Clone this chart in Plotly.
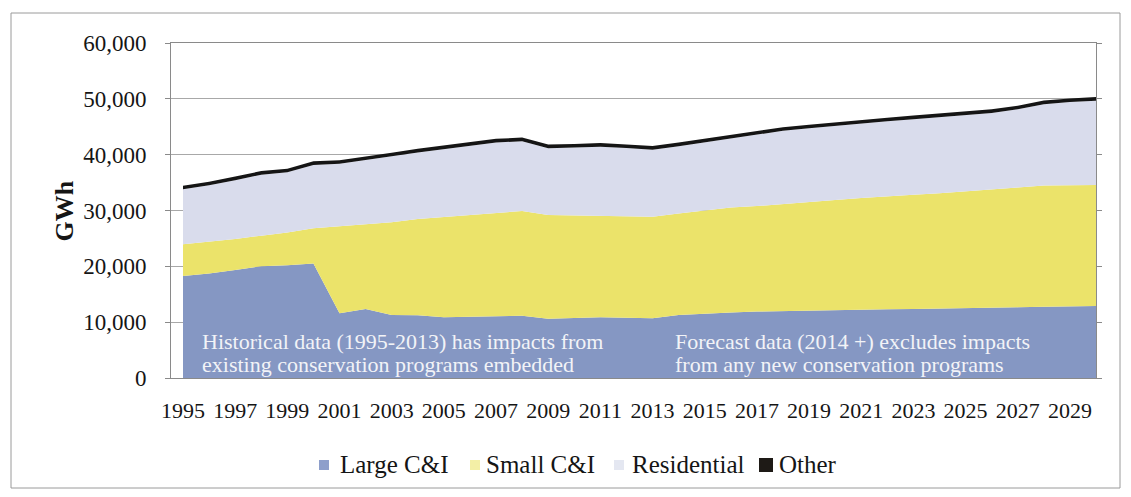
import plotly.graph_objects as go

years = list(range(1995, 2031))
large_ci = [18270, 18700, 19350, 20000, 20200, 20500, 11600, 12350, 11300, 11250,
            10900, 10950, 11100, 11150, 10600, 10750, 10900, 10800, 10700, 11300,
            11550, 11750, 11900, 12000, 12100, 12150, 12250, 12300, 12350, 12400,
            12450, 12550, 12650, 12750, 12850, 12900]
small_ci = [5680, 5700, 5550, 5500, 5850, 6300, 15600, 15150, 16600, 17250,
            17950, 18250, 18500, 18750, 18600, 18350, 18100, 18150, 18200, 18150,
            18500, 18800, 18900, 19120, 19390, 19710, 19980, 20170, 20450, 20700,
            20960, 21170, 21490, 21750, 21670, 21650]
residential = [9850, 10120, 10540, 10920, 10790, 11350, 11160, 11470, 11810, 11890,
               12160, 12360, 12580, 12510, 11970, 12180, 12430, 12230, 11980, 12060,
               12180, 12380, 12830, 13160, 13240, 13320, 13350, 13510, 13550, 13630,
               13690, 13760, 13990, 14530, 14910, 15110]
other = [650, 650, 650, 650, 650, 650, 650, 650, 650, 650,
         650, 650, 650, 650, 650, 650, 650, 650, 650, 650,
         650, 650, 650, 650, 650, 650, 650, 650, 650, 650,
         650, 650, 650, 650, 650, 650]

series_names = ["Large C&I", "Small C&I", "Residential", "Other"]
tick_years = list(range(1995, 2030, 2))
y_ticks = [0, 10000, 20000, 30000, 40000, 50000, 60000]

note_hist = ["Historical data (1995-2013) has impacts from",
             "existing conservation programs embedded"]
note_fcst = ["Forecast data (2014 +) excludes impacts",
             "from any new conservation programs"]

colors = ["#8597c3", "#ebe36a", "#d9dcec", "#151515"]
legend_colors = ["#8e9fcb", "#f3efa6", "#e4e7f1", "#1e1a16"]
FONT = "Liberation Serif"

# plot-area geometry (pixels) used to place legend items in paper coordinates
L, R, T, B = 171, 1096, 43, 378
def px_x(p):
    return (p - L) / (R - L)
def px_y(p):
    return (B - p) / (B - T)

fig = go.Figure()
for name, vals, col in zip(series_names, [large_ci, small_ci, residential, other], colors):
    fig.add_trace(go.Scatter(
        x=years, y=vals, name=name, mode="lines", stackgroup="one",
        line=dict(width=0, color=col), fillcolor=col, showlegend=False,
    ))

fig.update_xaxes(
    range=[1994.54, 2030.0], tickvals=tick_years, ticktext=[str(t) for t in tick_years],
    showgrid=False, showline=True, linecolor="#8a8a8a", linewidth=1, mirror=True,
    ticks="", ticklabelstandoff=13,
    tickfont=dict(family=FONT, size=22, color="#151515"), zeroline=False,
)
fig.update_yaxes(
    range=[0, 60000], tickvals=y_ticks, ticktext=[f"{v:,}" for v in y_ticks],
    showgrid=True, gridcolor="#a8a8a8", gridwidth=1,
    showline=True, linecolor="#8a8a8a", linewidth=1, mirror="ticks",
    ticks="outside", ticklen=5, tickcolor="#8a8a8a", ticklabelstandoff=14,
    tickfont=dict(family=FONT, size=23, color="#151515"), zeroline=False,
)

ann_font = dict(family=FONT, size=22, color="#f2f3f7")
for xpos, lines in [(1995.65, note_hist), (2013.79, note_fcst)]:
    for txt, ypos in zip(lines, [6450, 2330]):
        fig.add_annotation(
            x=xpos, y=ypos, xref="x", yref="y", xanchor="left", yanchor="middle",
            text=txt, showarrow=False, font=ann_font, align="left",
        )
fig.add_annotation(
    x=-0.1146, y=0.5, xref="paper", yref="paper", xanchor="center", yanchor="middle",
    text="<b>GWh</b>", textangle=-90, showarrow=False,
    font=dict(family=FONT, size=26, color="#151515"),
)

# legend (swatch squares + labels)
swatches = [(319, 329), (470, 480), (614, 624), (759, 773)]
text_x = [338, 484, 630, 777]
leg_y = 465
for (s0, s1), tx, name, col in zip(swatches, text_x, series_names, legend_colors):
    half = (s1 - s0) / 2
    fig.add_shape(
        type="rect", xref="paper", yref="paper",
        x0=px_x(s0), x1=px_x(s1), y0=px_y(leg_y + half), y1=px_y(leg_y - half),
        line=dict(width=0), fillcolor=col,
    )
    fig.add_annotation(
        x=px_x(tx), y=px_y(leg_y), xref="paper", yref="paper",
        xanchor="left", yanchor="middle", text=name, showarrow=False,
        font=dict(family=FONT, size=25, color="#151515"),
    )

# outer chart frame
fig.add_shape(
    type="rect", xref="paper", yref="paper", x0=px_x(11), x1=px_x(1120), y0=px_y(488), y1=px_y(13),
    line=dict(color="#9a9a9a", width=1), fillcolor="rgba(0,0,0,0)", layer="below",
)

fig.update_layout(
    width=1131, height=497,
    margin=dict(l=L, r=1131 - R, t=T, b=497 - B),
    paper_bgcolor="white", plot_bgcolor="white",
    showlegend=False,
)

fig.write_html("out.html", post_script="document.body.style.margin='0';",
               config={"displayModeBar": False})
